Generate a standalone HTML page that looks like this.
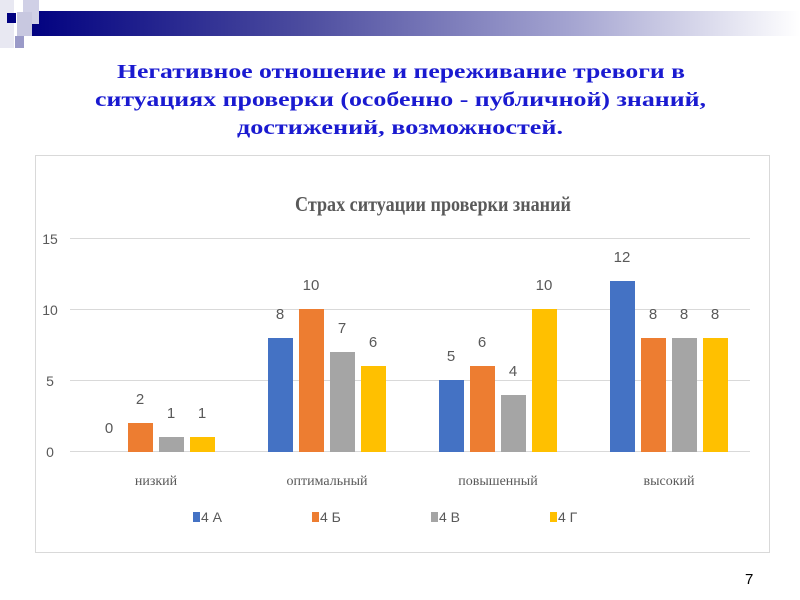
<!DOCTYPE html>
<html><head><meta charset="utf-8"><style>body{margin:0;background:#fff}svg{display:block}</style></head><body>
<svg width="800" height="600" xmlns="http://www.w3.org/2000/svg">
<defs><linearGradient id="g" x1="0" x2="1"><stop offset="0" stop-color="#000080"/><stop offset="0.35" stop-color="#4a4a9e"/><stop offset="0.7" stop-color="#a3a3d0"/><stop offset="1" stop-color="#fff"/></linearGradient></defs>
<rect x="25" y="11" width="775" height="25" fill="url(#g)"/>
<rect x="0" y="0" width="14" height="48" fill="#e8e8f2"/>
<rect x="7" y="13" width="9" height="10" fill="#000080"/>
<rect x="23" y="0" width="16" height="24" fill="#d0d0e6"/>
<rect x="17" y="12" width="15" height="24" fill="#c8c8e0"/>
<rect x="15" y="36" width="9" height="12" fill="#9a9ac8"/>
<g font-family="Liberation Serif, serif" font-weight="bold" font-size="20" fill="#1a1ad0" text-anchor="start">
<text x="117" y="78" textLength="568" lengthAdjust="spacingAndGlyphs">Негативное отношение и переживание тревоги в</text>
<text x="95" y="106" textLength="611" lengthAdjust="spacingAndGlyphs">ситуациях проверки (особенно - публичной) знаний,</text>
<text x="237" y="134" textLength="326" lengthAdjust="spacingAndGlyphs">достижений, возможностей.</text>
</g>
<rect x="35.5" y="155.5" width="734" height="397" fill="#fff" stroke="#d9d9d9"/>
<text x="295" y="211" font-family="Liberation Serif, serif" font-weight="bold" font-size="21" fill="#595959" textLength="276" lengthAdjust="spacingAndGlyphs">Страх ситуации проверки знаний</text>
<g stroke="#d9d9d9"><line x1="70" x2="750" y1="238.5" y2="238.5"/><line x1="70" x2="750" y1="309.5" y2="309.5"/><line x1="70" x2="750" y1="380.5" y2="380.5"/><line x1="70" x2="750" y1="451.5" y2="451.5"/></g>
<g font-family="Liberation Sans Narrow, Liberation Sans, sans-serif" font-size="14" fill="#595959" text-anchor="middle">
<text x="50" y="244">15</text><text x="50" y="315">10</text><text x="50" y="386">5</text><text x="50" y="457">0</text>
</g>
<g id="bars"></g>
<g fill="#4472c4"><rect x="268" y="338" width="25" height="114"/><rect x="439" y="380" width="25" height="72"/><rect x="610" y="281" width="25" height="171"/></g>
<g fill="#ed7d31"><rect x="128" y="423" width="25" height="29"/><rect x="299" y="309" width="25" height="143"/><rect x="470" y="366" width="25" height="86"/><rect x="641" y="338" width="25" height="114"/></g>
<g fill="#a5a5a5"><rect x="159" y="437" width="25" height="15"/><rect x="330" y="352" width="25" height="100"/><rect x="501" y="395" width="25" height="57"/><rect x="672" y="338" width="25" height="114"/></g>
<g fill="#ffc000"><rect x="190" y="437" width="25" height="15"/><rect x="361" y="366" width="25" height="86"/><rect x="532" y="309" width="25" height="143"/><rect x="703" y="338" width="25" height="114"/></g>
<g font-family="Liberation Sans Narrow, Liberation Sans, sans-serif" font-size="15" fill="#595959" text-anchor="middle">
<text x="109" y="433">0</text><text x="140" y="404">2</text><text x="171" y="418">1</text><text x="202" y="418">1</text>
<text x="280" y="319">8</text><text x="311" y="290">10</text><text x="342" y="333">7</text><text x="373" y="347">6</text>
<text x="451" y="361">5</text><text x="482" y="347">6</text><text x="513" y="376">4</text><text x="544" y="290">10</text>
<text x="622" y="262">12</text><text x="653" y="319">8</text><text x="684" y="319">8</text><text x="715" y="319">8</text>
</g>
<g font-family="Liberation Serif, serif" font-size="14" fill="#595959" text-anchor="middle">
<text x="156" y="485">низкий</text><text x="327" y="485">оптимальный</text><text x="498" y="485">повышенный</text><text x="669" y="485">высокий</text>
</g>
<g font-family="Liberation Sans Narrow, Liberation Sans, sans-serif" font-size="14" fill="#595959">
<rect x="193" y="512" width="7" height="10" fill="#4472c4"/><text x="201" y="522">4 А</text>
<rect x="312" y="512" width="7" height="10" fill="#ed7d31"/><text x="320" y="522">4 Б</text>
<rect x="431" y="512" width="7" height="10" fill="#a5a5a5"/><text x="439" y="522">4 В</text>
<rect x="550" y="512" width="7" height="10" fill="#ffc000"/><text x="558" y="522">4 Г</text>
</g>
<text x="745" y="584" font-family="Liberation Sans, sans-serif" font-size="15" fill="#000">7</text>
</svg>
</body></html>
